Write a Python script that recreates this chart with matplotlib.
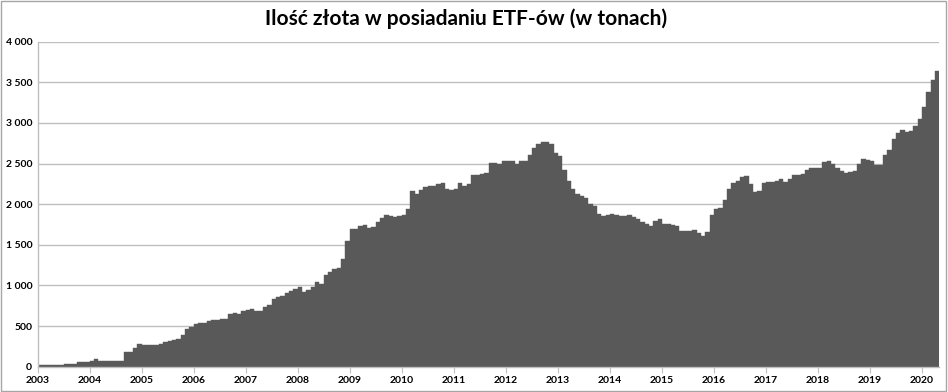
import numpy as np
import matplotlib.pyplot as plt
from matplotlib.ticker import FuncFormatter, MultipleLocator
from matplotlib.patches import Rectangle

# monthly gold holdings of ETFs (tonnes), Jan 2003 - Apr 2020
y2003 = [20, 20, 20, 21, 21, 22, 33, 33, 35, 57, 57, 58]
y2004 = [74, 90, 76, 68, 66, 66, 66, 68, 185, 180, 235, 280]
y2005 = [270, 267, 270, 270, 285, 300, 315, 325, 335, 390, 470, 485]
y2006 = [520, 540, 533, 560, 574, 574, 582, 585, 648, 656, 652, 685]
y2007 = [697, 705, 685, 685, 730, 758, 828, 861, 865, 910, 935, 951]
y2008 = [985, 923, 944, 985, 1046, 1014, 1130, 1170, 1200, 1220, 1322, 1551]
y2009 = [1690, 1690, 1730, 1740, 1713, 1715, 1785, 1826, 1867, 1860, 1846, 1860]
y2010 = [1870, 1935, 2165, 2125, 2170, 2210, 2225, 2230, 2245, 2260, 2185, 2180]
y2011 = [2190, 2260, 2230, 2252, 2364, 2364, 2370, 2390, 2512, 2512, 2500, 2533]
y2012 = [2533, 2533, 2500, 2533, 2530, 2611, 2686, 2735, 2760, 2768, 2740, 2636]
y2013 = [2590, 2418, 2283, 2193, 2123, 2102, 2074, 2008, 1975, 1885, 1856, 1873]
y2014 = [1877, 1865, 1856, 1856, 1873, 1844, 1815, 1783, 1758, 1730, 1795, 1815]
y2015 = [1754, 1762, 1750, 1730, 1668, 1668, 1668, 1688, 1640, 1606, 1660, 1867]
y2016 = [1941, 1957, 2052, 2183, 2265, 2290, 2330, 2351, 2244, 2154, 2162, 2257]
y2017 = [2269, 2277, 2290, 2314, 2269, 2306, 2355, 2360, 2367, 2421, 2449, 2449]
y2018 = [2449, 2523, 2531, 2490, 2441, 2405, 2385, 2397, 2410, 2492, 2560, 2541]
y2019 = [2537, 2479, 2488, 2611, 2673, 2797, 2872, 2913, 2892, 2900, 2962, 3049]
y2020 = [3194, 3380, 3533, 3636]

years = list(range(2003, 2021))
tonnes = (y2003 + y2004 + y2005 + y2006 + y2007 + y2008 + y2009 + y2010 + y2011
          + y2012 + y2013 + y2014 + y2015 + y2016 + y2017 + y2018 + y2019 + y2020)

plt.rcParams['font.family'] = ['Lato', 'DejaVu Sans']

fig = plt.figure(figsize=(9.48, 3.92), dpi=100)
ax = fig.add_axes([0.0398, 0.0645, 0.9510, 0.8291])

x = np.arange(len(tonnes)) + 0.5
ax.bar(x, tonnes, width=1.0, color="#595959", edgecolor="#595959", linewidth=0.3, zorder=2)

ax.set_xlim(0, len(tonnes))
ax.set_ylim(0, 4000)
ax.yaxis.set_major_locator(MultipleLocator(500))
ax.yaxis.set_major_formatter(FuncFormatter(lambda v, p: f"{int(v):,}".replace(",", " ")))
ax.grid(axis="y", color="#bfbfbf", linewidth=1.0, zorder=0)
ax.set_axisbelow(True)

ax.set_xticks([12 * i for i in range(len(years))])
ax.set_xticklabels([str(yr) for yr in years])

for lab in ax.get_xticklabels() + ax.get_yticklabels():
    lab.set_fontweight("bold")
    lab.set_fontsize(7.5)
ax.tick_params(axis="x", length=4, color="#bfbfbf", pad=3)
ax.tick_params(axis="y", length=0, pad=4)

for side in ["top", "right"]:
    ax.spines[side].set_visible(False)
for side in ["left", "bottom"]:
    ax.spines[side].set_color("#bfbfbf")
    ax.spines[side].set_linewidth(1.0)

fig.text(0.4915, 0.952, "Ilość złota w posiadaniu ETF-ów (w tonach)",
         ha="center", va="center", fontsize=15, fontweight="bold")

fig.patches.append(Rectangle((0.001, 0.002), 0.997, 0.995, transform=fig.transFigure,
                             fill=False, edgecolor="#a6a6a6", linewidth=1.0))

fig.savefig("out.png", dpi=100)
